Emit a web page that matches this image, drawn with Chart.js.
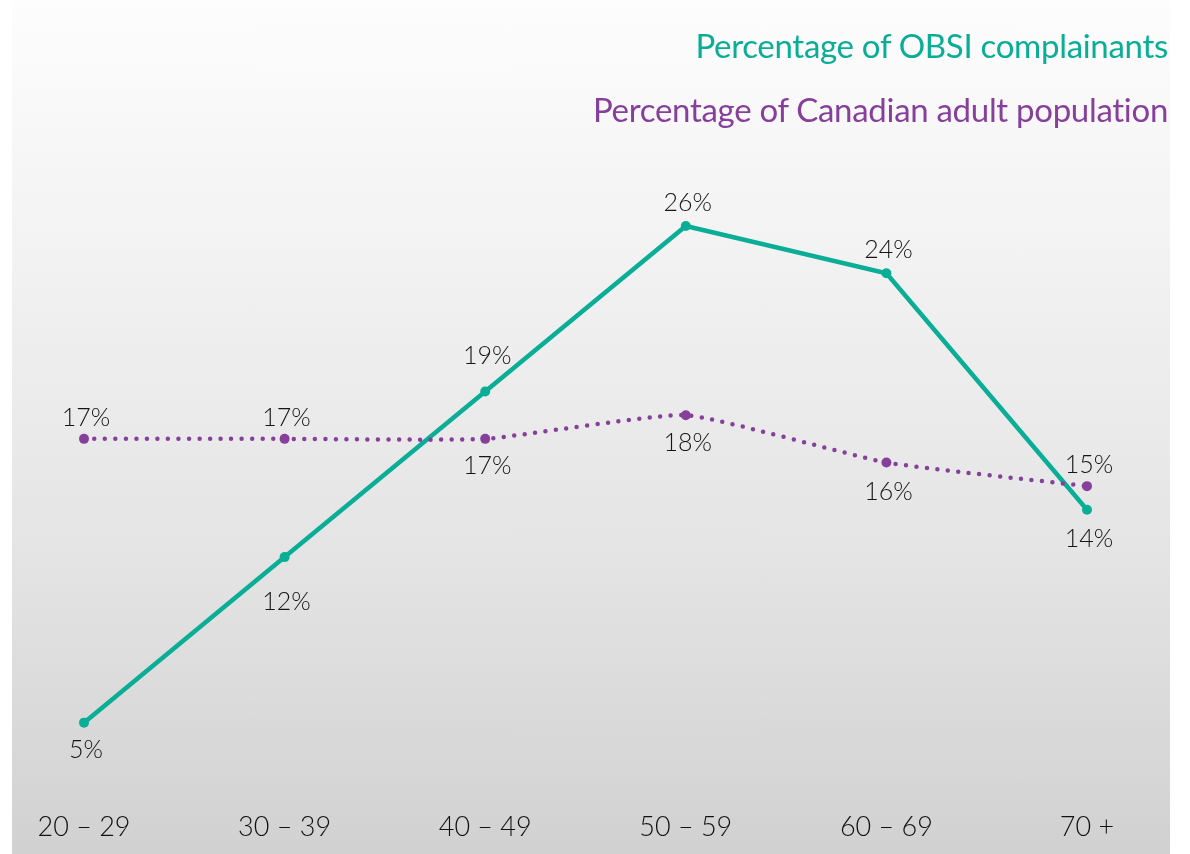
<!DOCTYPE html>
<html>
<head>
<meta charset="utf-8">
<script src="https://cdn.jsdelivr.net/npm/chart.js@4"></script>
<style>
  html, body { margin: 0; padding: 0; background: #fff; overflow: hidden; }
  #wrap { position: relative; width: 1190px; height: 854px; overflow: hidden; }
  #panel {
    position: absolute; left: 12px; top: 0; width: 1158px; height: 854px;
    background: linear-gradient(to bottom, #fdfdfd 0%, #f2f2f2 30%, #e4e4e4 65%, #d1d1d1 100%);
  }
  #chart { position: absolute; left: 0; top: 0; }
  .leg {
    position: absolute; right: 22px; font-family: Lato, "Open Sans", sans-serif;
    font-weight: 400; font-size: 33px; white-space: nowrap; letter-spacing: -0.3px;
  }
</style>
</head>
<body>
<div id="wrap">
  <div id="panel"></div>
  <canvas id="chart" width="1190" height="872"></canvas>
  <div class="leg" style="top:25px;color:#0aae96">Percentage of OBSI complainants</div>
  <div class="leg" style="top:89px;color:#86409b">Percentage of Canadian adult population</div>
</div>
<script>
// Age groups and shares (%)
const ageGroups = ['20 – 29', '30 – 39', '40 – 49', '50 – 59', '60 – 69', '70 +'];
const obsiComplainants = [5, 12, 19, 26, 24, 14];
const canadianAdults = [17, 17, 17, 18, 16, 15];

// label vertical offsets from the point (px), negative = above
const obsiLabelDy = [27, 45, -36, -23, -23, 29];
const adultLabelDy = [-21, -21, 27, 28, 29, -21];

const TEAL = '#0aae96';
const PURPLE = '#86409b';

const pointLabels = {
  id: 'pointLabels',
  afterDatasetsDraw(chart) {
    const ctx = chart.ctx;
    ctx.save();
    ctx.font = '300 25px Lato, "Open Sans", sans-serif';
    ctx.fillStyle = '#151515';
    ctx.textAlign = 'center';
    ctx.textBaseline = 'middle';
    chart.data.datasets.forEach((ds, di) => {
      const meta = chart.getDatasetMeta(di);
      meta.data.forEach((pt, i) => {
        ctx.fillText(ds.data[i] + '%', pt.x + 2, pt.y + ds.labelDy[i]);
      });
    });
    ctx.restore();
  }
};

new Chart(document.getElementById('chart'), {
  type: 'line',
  data: {
    labels: ageGroups,
    datasets: [
      {
        label: 'Percentage of Canadian adult population',
        data: canadianAdults,
        labelDy: adultLabelDy,
        borderColor: PURPLE,
        backgroundColor: PURPLE,
        borderWidth: 4.5,
        borderDash: [0, 10.5],
        borderCapStyle: 'round',
        tension: 0.15,
        pointRadius: 5,
        pointBorderWidth: 0,
        fill: false
      },
      {
        label: 'Percentage of OBSI complainants',
        data: obsiComplainants,
        labelDy: obsiLabelDy,
        borderColor: TEAL,
        backgroundColor: TEAL,
        borderWidth: 4.5,
        tension: 0,
        pointRadius: 5,
        pointBorderWidth: 0,
        fill: false
      }
    ]
  },
  options: {
    responsive: false,
    animation: false,
    layout: { padding: { left: 84, right: 103, top: 131.4, bottom: 12 } },
    plugins: { legend: { display: false }, tooltip: { enabled: false } },
    scales: {
      x: {
        offset: false,
        grid: { display: false, drawTicks: false },
        border: { display: false },
        ticks: {
          color: '#111',
          padding: 17,
          font: { family: 'Lato, "Open Sans", sans-serif', size: 27, weight: 300 },
          maxRotation: 0,
          autoSkip: false
        }
      },
      y: {
        display: false,
        min: 2,
        max: 30
      }
    }
  },
  plugins: [pointLabels]
});
</script>
</body>
</html>
